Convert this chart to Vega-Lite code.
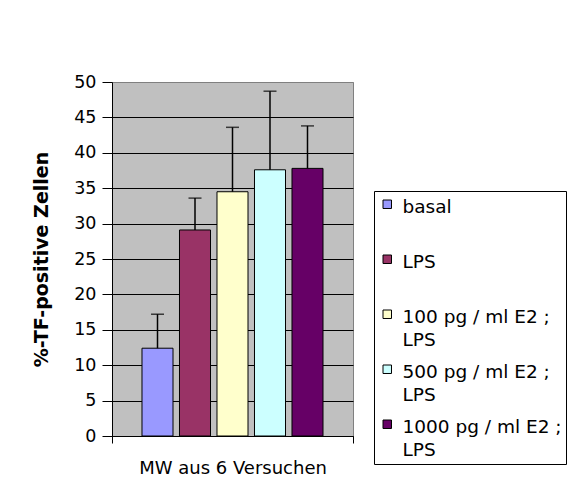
{
  "$schema": "https://vega.github.io/schema/vega-lite/v6.json",
  "autosize": {"type": "none"},
  "width": 241,
  "height": 354,
  "padding": {"left": 112, "top": 82, "right": 215, "bottom": 43},
  "background": "white",
  "data": {
    "values": [
      {"grp": "MW aus 6 Versuchen", "series": "basal", "mean": 12.4, "upper": 17.2},
      {"grp": "MW aus 6 Versuchen", "series": "LPS", "mean": 29.1, "upper": 33.6},
      {"grp": "MW aus 6 Versuchen", "series": "100 pg / ml E2 ; LPS", "mean": 34.5, "upper": 43.6},
      {"grp": "MW aus 6 Versuchen", "series": "500 pg / ml E2 ; LPS", "mean": 37.6, "upper": 48.7},
      {"grp": "MW aus 6 Versuchen", "series": "1000 pg / ml E2 ; LPS", "mean": 37.8, "upper": 43.8}
    ]
  },
  "config": {
    "view": {"fill": "#C0C0C0", "stroke": "#808080", "strokeWidth": 1},
    "font": "DejaVu Sans",
    "axis": {"labelColor": "black", "titleColor": "black", "domainColor": "black", "tickColor": "black", "labelFont": "DejaVu Sans", "titleFont": "DejaVu Sans"},
    "axisY": {
      "titleFontSize": 19, "titleFontWeight": "bold", "titlePadding": 22,
      "labelOverlap": false, "labelFontSize": 17.5, "labelPadding": 6, "tickSize": 10, "tickWidth": 1, "domainWidth": 1,
      "grid": true, "gridWidth": 1, "gridColor": "black"
    }
  },
  "encoding": {
    "x": {
      "field": "grp", "type": "nominal",
      "scale": {"paddingInner": 0, "paddingOuter": 0},
      "axis": {"title": null, "labelAngle": 0, "labelFontSize": 18, "labelPadding": 16, "labelLimit": 400, "tickSize": 7, "tickBand": "extent", "domainWidth": 1, "tickWidth": 1, "grid": false}
    },
    "xOffset": {
      "field": "series", "type": "nominal",
      "scale": {"domain": ["basal", "LPS", "100 pg / ml E2 ; LPS", "500 pg / ml E2 ; LPS", "1000 pg / ml E2 ; LPS"], "paddingInner": 0.173, "paddingOuter": 0.8}
    }
  },
  "layer": [
    {
      "mark": {"type": "bar", "stroke": "black", "strokeWidth": 1},
      "encoding": {
        "y": {
          "field": "mean", "type": "quantitative",
          "scale": {"domain": [0, 50], "nice": false},
          "axis": {
            "title": "%-TF-positive Zellen",
            "values": [0, 5, 10, 15, 20, 25, 30, 35, 40, 45, 50],
            "gridColor": {"condition": {"test": "datum.value >= 50", "value": "#808080"}, "value": "black"}
          }
        },
        "color": {
          "field": "series", "type": "nominal",
          "scale": {
            "domain": ["basal", "LPS", "100 pg / ml E2 ; LPS", "500 pg / ml E2 ; LPS", "1000 pg / ml E2 ; LPS"],
            "range": ["#9999FF", "#993366", "#FFFFCC", "#CCFFFF", "#660066"]
          },
          "legend": {
            "title": null, "orient": "none", "legendX": 262, "legendY": 109,
            "direction": "vertical",
            "strokeColor": "black", "fillColor": "white", "padding": 4,
            "symbolType": "square", "symbolSize": 72, "symbolStrokeColor": "black", "symbolStrokeWidth": 1, "symbolOpacity": 1,
            "labelFont": "DejaVu Sans", "labelFontSize": 18.5, "labelColor": "black", "labelLimit": 300,
            "labelOffset": 6, "rowPadding": 10, "labelBaseline": "middle",
            "labelExpr": "indexof(datum.label, ';') > 0 ? [substring(datum.label, 0, indexof(datum.label, ';') + 1), substring(datum.label, indexof(datum.label, ';') + 2)] : [datum.label, ' ']",
            "encode": {"labels": {"update": {"dy": {"value": 3}, "lineHeight": {"value": 23}}}}
          }
        }
      }
    },
    {
      "mark": {"type": "rule", "color": "black", "strokeWidth": 1.5},
      "encoding": {
        "y": {
          "field": "mean", "type": "quantitative",
          "axis": {
            "title": "%-TF-positive Zellen",
            "values": [0, 5, 10, 15, 20, 25, 30, 35, 40, 45, 50],
            "gridColor": {"condition": {"test": "datum.value >= 50", "value": "#808080"}, "value": "black"}
          }
        },
        "y2": {"field": "upper"}
      }
    },
    {
      "mark": {"type": "tick", "color": "black", "thickness": 1.5, "size": 13, "orient": "horizontal"},
      "encoding": {
        "y": {
          "field": "upper", "type": "quantitative",
          "axis": {
            "title": "%-TF-positive Zellen",
            "values": [0, 5, 10, 15, 20, 25, 30, 35, 40, 45, 50],
            "gridColor": {"condition": {"test": "datum.value >= 50", "value": "#808080"}, "value": "black"}
          }
        }
      }
    }
  ]
}
